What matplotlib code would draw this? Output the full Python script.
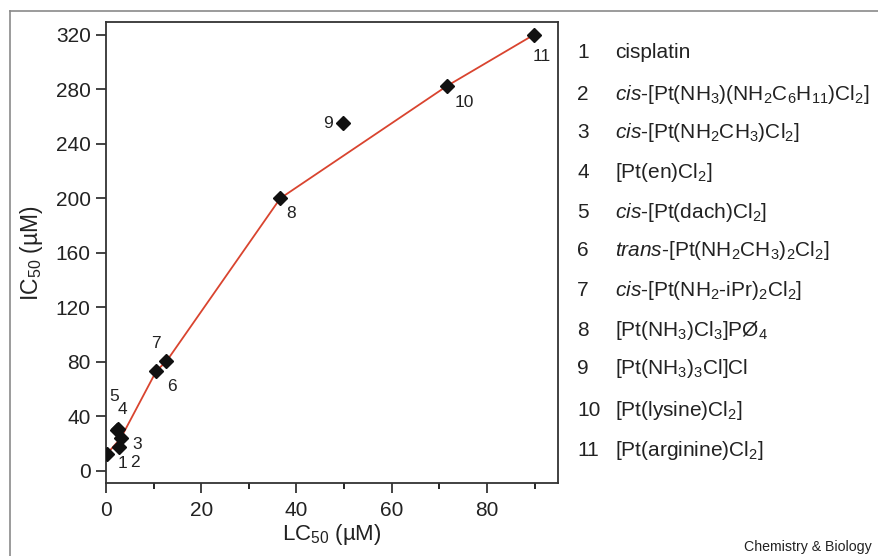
import matplotlib
matplotlib.use("Agg")
import matplotlib.pyplot as plt
from matplotlib.ticker import MultipleLocator
from matplotlib.lines import Line2D

plt.rcParams['font.family'] = ['Liberation Sans', 'DejaVu Sans']
plt.rcParams['mathtext.fontset'] = 'custom'
plt.rcParams['mathtext.rm'] = 'Liberation Sans'
plt.rcParams['mathtext.it'] = 'Liberation Sans:italic'
plt.rcParams['mathtext.bf'] = 'Liberation Sans:bold'

# compound numbers, LC50 (x) and IC50 (y)
ids = ["1", "2", "3", "4", "5", "6", "7", "8", "9", "10", "11"]
lc50 = [0.2, 2.7, 3.1, 2.5, 2.4, 12.7, 10.6, 36.6, 49.8, 71.6, 89.8]
ic50 = [12.3, 17.5, 23.8, 30.8, 29.5, 80.3, 73.4, 200, 255, 282.5, 320]

# compounds the red trend line goes through
line_ids = ["1", "3", "7", "6", "8", "10", "11"]

# label offsets from each marker (pixels)
label_off = {"1": (16, -10), "2": (16, -16), "3": (16, -6), "4": (5, 19),
             "5": (-3, 34), "6": (5, -25), "7": (-1, 27), "8": (11, -15),
             "9": (-15, 0), "10": (17, -16), "11": (8, -22)}

names = [
    "cisplatin",
    r"$\mathit{cis}$-[Pt(NH$_3$)(NH$_2$C$_6$H$_{11}$)Cl$_2$]",
    r"$\mathit{cis}$-[Pt(NH$_2$CH$_3$)Cl$_2$]",
    r"[Pt(en)Cl$_2$]",
    r"$\mathit{cis}$-[Pt(dach)Cl$_2$]",
    r"$\mathit{trans}$-[Pt(NH$_2$CH$_3$)$_2$Cl$_2$]",
    r"$\mathit{cis}$-[Pt(NH$_2$-iPr)$_2$Cl$_2$]",
    r"[Pt(NH$_3$)Cl$_3$]PØ$_4$",
    r"[Pt(NH$_3$)$_3$Cl]Cl",
    r"[Pt(lysine)Cl$_2$]",
    r"[Pt(arginine)Cl$_2$]",
]

fig = plt.figure(figsize=(8.79, 5.56), dpi=100)
ax = fig.add_axes([0.1206, 0.1308, 0.5146, 0.8296])

lx = [lc50[ids.index(i)] for i in line_ids]
ly = [ic50[ids.index(i)] for i in line_ids]
ax.plot(lx, ly, color="#d9442f", lw=1.3, zorder=2)
ax.plot(lc50, ic50, ls="none", marker="D", ms=7.5, color="#111111", zorder=3)

for i, x, y in zip(ids, lc50, ic50):
    dx, dy = label_off[i]
    ax.annotate(i, (x, y), xytext=(dx, dy), textcoords="offset pixels",
                ha="center", va="center", fontsize=12.5, color="#222222")

ax.set_xlim(0, 95)
ax.set_ylim(-9.3, 329.5)
ax.xaxis.set_major_locator(MultipleLocator(20))
ax.xaxis.set_minor_locator(MultipleLocator(10))
ax.yaxis.set_major_locator(MultipleLocator(40))
ax.tick_params(axis="x", which="major", length=7.5, width=1.2, pad=5,
               labelsize=15, colors="#222222")
ax.tick_params(axis="x", which="minor", length=4, width=1.2)
ax.tick_params(axis="y", which="major", length=7, width=1.2, pad=4,
               labelsize=15, colors="#222222")
for s in ax.spines.values():
    s.set_linewidth(1.3)
    s.set_color("#333333")

ax.set_xlabel(r"LC$_{50}$ (µM)", fontsize=16, color="#222222", labelpad=2)
ax.set_ylabel(r"IC$_{50}$ (µM)", fontsize=16.5, color="#222222", labelpad=8)

# numbered list of compounds on the right
row_y = [52, 94, 132, 172, 212, 250, 291, 330, 369, 410, 450]
for i, name, py in zip(ids, names, row_y):
    fy = 1 - py / 556
    fig.text(577 / 879, fy, i, fontsize=15, color="#222222", va="center")
    fig.text(615 / 879, fy, name, fontsize=15, color="#222222", va="center")

fig.text(744 / 879, 1 - 547 / 556, "Chemistry & Biology", fontsize=10.2,
         color="#222222", va="center")

# page frame lines from the scan
fig.add_artist(Line2D([10 / 879, 1], [1 - 11 / 556] * 2, color="#8a8a8a",
                      lw=1.2, transform=fig.transFigure))
fig.add_artist(Line2D([10 / 879] * 2, [0, 1 - 11 / 556], color="#8a8a8a",
                      lw=1.2, transform=fig.transFigure))

fig.savefig("out.png", dpi=100)
